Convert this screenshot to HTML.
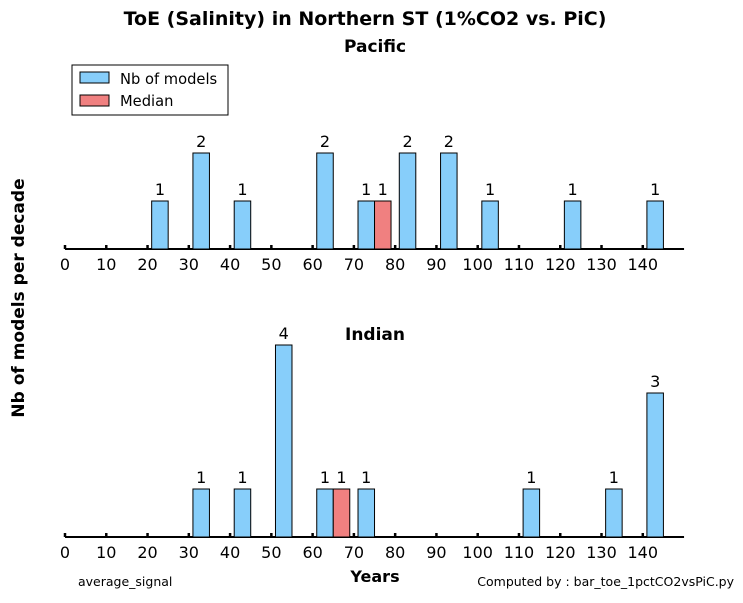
<!DOCTYPE html>
<html><head><meta charset="utf-8"><style>
body{margin:0;background:#fff}
svg text{font-family:"DejaVu Sans","Liberation Sans",sans-serif}
</style></head><body>
<svg id="c" width="743" height="598" xmlns="http://www.w3.org/2000/svg">
<text x="365" y="25" text-anchor="middle" font-size="19" font-weight="bold">ToE (Salinity) in Northern ST (1%CO2 vs. PiC)</text>
<text x="375" y="52" text-anchor="middle" font-size="17" font-weight="bold">Pacific</text>
<text x="375" y="340" text-anchor="middle" font-size="17" font-weight="bold">Indian</text>
<text transform="translate(24,298) rotate(-90)" text-anchor="middle" font-size="17" font-weight="bold">Nb of models per decade</text>
<text x="375" y="582" text-anchor="middle" font-size="16" font-weight="bold">Years</text>
<text x="78" y="586" font-size="12.5">average_signal</text>
<text x="734" y="586" text-anchor="end" font-size="12.5">Computed by : bar_toe_1pctCO2vsPiC.py</text>
<g>
<rect x="72" y="65" width="156" height="50" fill="#fff" stroke="#000" stroke-width="1"/>
<rect x="80" y="72" width="29" height="11" fill="#87cefa" stroke="#000"/>
<text x="120" y="84" font-size="14.7">Nb of models</text>
<rect x="80" y="95" width="29" height="11" fill="#f08080" stroke="#000"/>
<text x="120" y="106" font-size="14.7">Median</text>
</g>
<g id="g"></g>
</svg>
<script>
const decades=[0,10,20,30,40,50,60,70,80,90,100,110,120,130,140];
const ticks=[0,10,20,30,40,50,60,70,80,90,100,110,120,130,140];
const pacificCounts=[0,0,1,2,1,0,2,1,2,2,1,0,1,0,1];
const pacificMedian=[70,1];
const indianCounts=[0,0,0,1,1,4,1,1,0,0,0,1,0,1,3];
const indianMedian=[60,1];
const NS='http://www.w3.org/2000/svg';
const g=document.getElementById('g');
const X=v=>65+v*4.127;
function el(t,a){const e=document.createElementNS(NS,t);for(const k in a)e.setAttribute(k,a[k]);g.appendChild(e);return e;}
function panel(base,counts,med,name){
  const Y=v=>base-v*48;
  const ax=el('line',{x1:X(0),x2:X(150),y1:base,y2:base,stroke:'#000','stroke-width':2});
  
  
  ticks.forEach(t=>{
    const l=el('line',{x1:X(t),x2:X(t),y1:base,y2:base-4,stroke:'#000','stroke-width':2.5});
    
    
    const tx=el('text',{x:X(t),y:base+21,'text-anchor':'middle','font-size':16});
    tx.textContent=t;
    
    
  });
  function bar(x0,v,fill,nm){
    const r=el('rect',{x:X(x0),y:Y(v),width:X(x0+4)-X(x0),height:base-Y(v),fill:fill,stroke:'#000','stroke-width':1});
    
    
    const t=el('text',{x:X(x0+2),y:Y(v)-6,'text-anchor':'middle','font-size':16});
    t.textContent=v;
    
    
  }
  decades.forEach((d,i)=>{if(counts[i]>0)bar(d+1,counts[i],'#87cefa',name+'-bar-'+d);});
  bar(med[0]+5,med[1],'#f08080',name+'-median-bar');
}
panel(249,pacificCounts,pacificMedian,'pacific');
panel(537,indianCounts,indianMedian,'indian');
</script>
</body></html>
